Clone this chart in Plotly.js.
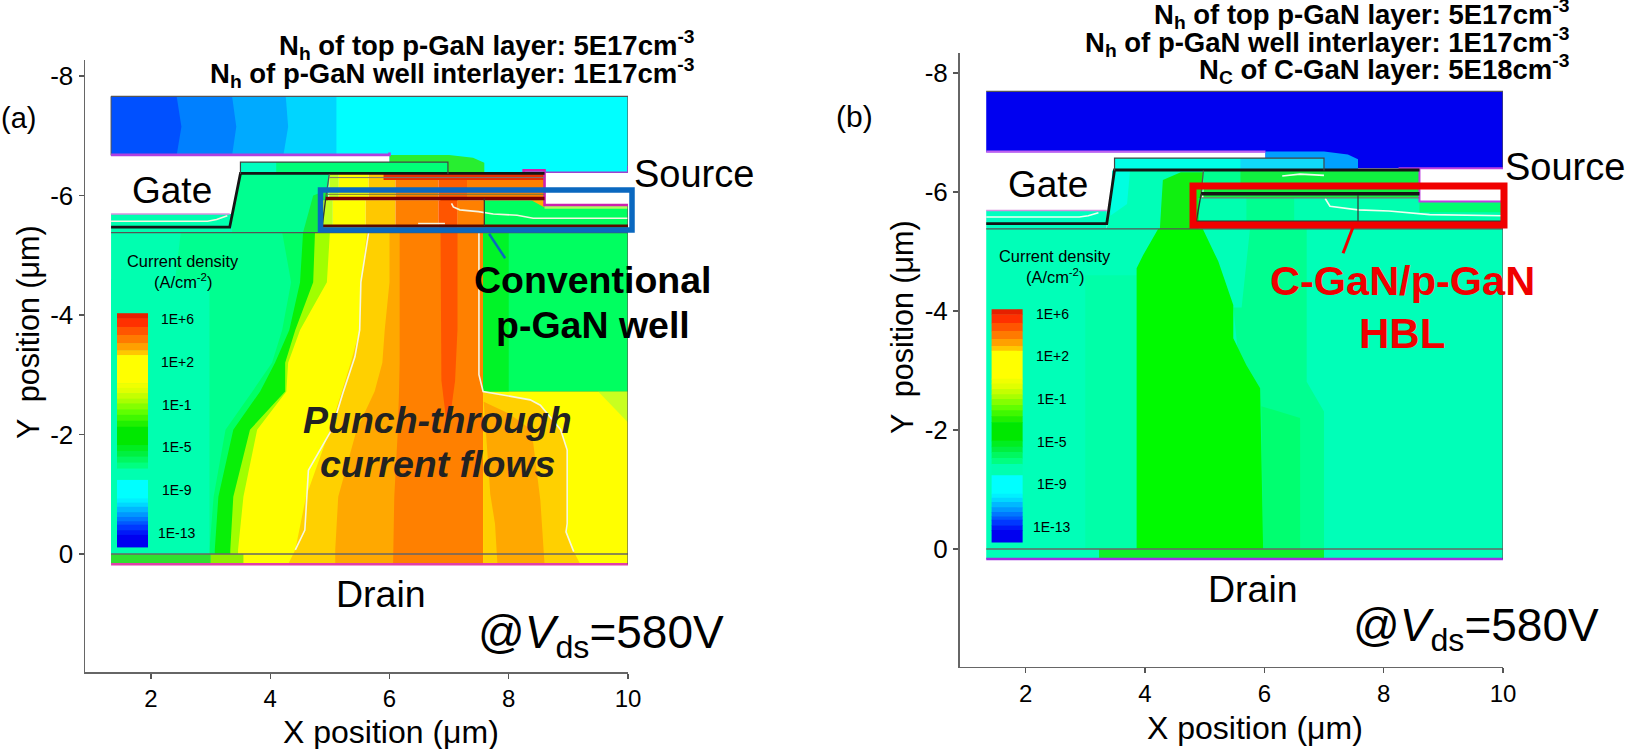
<!DOCTYPE html>
<html><head><meta charset="utf-8">
<script src="https://cdn.plot.ly/plotly-3.0.1.min.js"></script>
<style>html,body{margin:0;padding:0;background:#fff}#c{width:1625px;height:749px}</style>
</head><body><div id="c"></div>
<script>
// ---------- axes / ticks ----------
const xTicks=[2,4,6,8,10], yTicks=[-8,-6,-4,-2,0];
// ---------- colour bar ----------
const cbX=[1.43,1.95];
const cbEdges=[-4.03,-3.945,-3.80,-3.665,-3.53,-3.41,-3.33,-2.86,-2.78,-2.69,-2.6,-2.52,-2.42,-2.33,-2.23,-2.13,-1.82,-1.72,-1.63,-1.53,-1.43,-1.24,-0.93,-0.86,-0.79,-0.70,-0.62,-0.55,-0.49,-0.4,-0.32,-0.12];
const cbColors=['#e62000','#ff3000','#ff5500','#ff7a00','#ffa000','#ffc800','#ffff00','#f0ff00','#e0ff00','#c4ff00','#a8ff00','#84ff00','#60ff00','#40f800','#20f000','#00e800','#00ee20','#00f040','#00f860','#00ff80','#00ffb0','#00ffff','#00f0ff','#00d8ff','#00b8ff','#0098ff','#0078ff','#0058ff','#0038ff','#0018f8','#0000f0'];
const cbLabels=['1E+6','1E+2','1E-1','1E-5','1E-9','1E-13'];
// ---------- panel (a): drift-region contour bands ----------
const aLevels=[-5.38,-4.55,-3.75,-3.2,-2.72,-2.08,-0.96,-0.07,0.17];
const aBandColors=['#00ff90','#00ff66','#08f008','#a0ff00','#ffff00','#ffd000','#ffa800','#ff8000'];
const aBandEdges=[
 [2.5,2.4,2.3,2.3,2.3,2.3,2.3,2.3,2.3],
 [4.2,4.35,4.2,4.03,3.7,3.25,3.05,2.98,2.98],
 [4.55,4.5,4.32,4.08,3.83,3.38,3.13,3.07,3.07],
 [4.75,4.72,4.42,4.25,4.25,3.66,3.38,3.33,3.33],
 [5.0,4.95,4.5,4.3,4.27,3.78,3.55,3.46,3.46],
 [5.62,5.52,5.5,5.35,5.2,5.0,4.6,4.42,4.3],
 [6.0,6.0,5.92,5.88,5.75,5.45,5.14,5.09,5.09],
 [6.17,6.17,6.18,6.17,6.16,6.14,6.08,6.06,6.06]];
// polygons as [xs, ys]
const aRedCore=[[6.85,7.14,7.14,7.1,6.98,6.87],[-6.36,-6.36,-3.75,-2.9,-2.02,-2.9]];
const aYellowR=[[7.57,10,10,7.57],[-2.72,-2.72,0.17,0.17]];
const aYellowCorner=[[9.5,10,10],[-2.72,-2.72,-2.2]];
const aGoldR=[[7.57,8.36,8.53,8.87,8.98,8.98,8.96,9.09,9.2,7.57],[-2.72,-2.58,-2.49,-2.08,-1.74,-0.51,-0.37,-0.04,0.17,0.17]];
const aOrangeR=[[7.58,8.0,8.35,8.41,8.53,8.6,7.81,7.77,7.69,7.63],[-2.55,-2.35,-2.1,-1.86,-0.9,0.17,0.17,-0.5,-1.0,-1.86]];
const aGreenR=[[7.57,10,10,7.57],[-5.92,-5.92,-2.72,-2.72]];
const aGreenRL=[[7.57,8.0,8.0,7.57],[-5.38,-5.38,-2.72,-2.72]];
const aLegendBg=[[1.33,2.98,2.98,1.33],[-4.6,-4.6,0,0]];
const aFoot1=[[1.33,3.0,3.0,1.33],[0,0,0.17,0.17]];
const aFoot2=[[3.0,3.55,3.55,3.0],[0,0,0.17,0.17]];
const aTopC=['#0050ff','#0080ff','#00aaff','#00d5ff','#00ffff'];
const aTopEdges=[[1.33,1.33,1.33],[2.43,2.51,2.43],[3.36,3.43,3.36],[4.26,4.3,4.22],[5.11,5.11,5.11]];
const aTopLev=[-7.66,-7.15,-6.67];
const aTopRight=[[6,10,10,6],[-6.7,-6.7,-6.39,-6.39]];
const aBump=[[6,7,7.4,7.59,7.59,6],[-6.68,-6.68,-6.63,-6.55,-6.36,-6.36]];
const aStep=[[1.33,3.36,3.36,1.33],[-5.69,-5.69,-5.38,-5.38]];
const aMesa=[[3.32,3.5,5.0,4.9],[-5.38,-6.36,-6.36,-5.38]];
const aMesaGreen=[[4.55,4.72,4.98,4.92],[-5.38,-6.0,-6.1,-5.38]];
const aStrip=[[3.5,6.98,6.98,3.5],[-6.56,-6.56,-6.36,-6.36]];
const aStripTeal=[[3.5,4.1,4.1,3.5],[-6.56,-6.56,-6.36,-6.36]];
const aWellEdges=[4.99,5.15,5.65,6.1,6.82,7.3,8.6];
const aWellColors=['#c0ff20','#ffff00','#ffc800','#ff8000','#ff5f00','#ff8000'];
const aRedStrip=[[5.9,8.6,8.6,5.9],[-6.36,-6.36,-6.26,-6.26]];
const aLowEdges=[4.88,5.05,5.6,6.1,6.82,7.14,7.59];
const aLowColors=['#c0ff20','#ffff00','#ffc800','#ff8000','#ff5500','#ff8000'];
const aNotch=[[8.6,10,10,8.6],[-6.39,-6.39,-5.84,-5.84]];
const aCornerPatch=[[8.38,8.6,8.6],[-5.92,-5.92,-5.8]];
// panel (a) lines
const aCont1=[[5.65,5.52,5.5,5.42,5.22,5.03,4.64,4.58,4.42],[-5.38,-4.55,-3.75,-3.3,-2.7,-2.08,-1.4,-0.4,-0.07]];
const aCont2=[[7.5,7.5,7.57,8.36,8.53,8.87,8.98,8.98,8.96,9.09],[-5.38,-3,-2.72,-2.58,-2.49,-2.08,-1.74,-0.51,-0.37,-0.04]];
const aCont3=[[7.04,7.07,7.18,7.49,7.74,8.14,8.41,10],[-5.87,-5.81,-5.76,-5.73,-5.69,-5.67,-5.62,-5.62]];
const aCont4=[[6.48,6.93],[-5.53,-5.53]];
const aCont5=[[1.33,2.95,3.1,3.28],[-5.57,-5.57,-5.6,-5.66]];
// ---------- panel (b) ----------
const bPale=[[5.76,6.71,6.71,7.0,7.0,5.9,5.48,5.62],[-5.38,-5.38,-2.81,-2.31,0,0,-4.06,-4.06]];
const bPale2=[[5.95,6.6,6.6,5.98],[-2.4,-2.2,0,0]];
const bLeftPale=[[3.0,3.9,3.9,3.0],[-4.6,-4.6,0,0]];
const bBright=[[4.22,4.97,5.23,5.48,5.48,5.7,5.93,5.98,3.86,3.86,3.97],[-5.38,-5.38,-4.83,-4.1,-3.54,-3.09,-2.7,0,0,-4.72,-4.94]];
const bFootGreen=[[3.23,7.0,7.0,3.23],[0,0,0.17,0.17]];
const bTopBlue=[[1.34,10,10,6.02,6.02,1.34],[-7.69,-7.69,-6.4,-6.4,-6.67,-6.67]];
const bBump=[[6.02,7,7.4,7.57,7.57,6.02],[-6.68,-6.68,-6.63,-6.55,-6.36,-6.36]];
const bStep=[[1.34,3.36,3.36,1.34],[-5.69,-5.69,-5.38,-5.38]];
const bMesa=[[3.36,3.49,5,4.9],[-5.38,-6.36,-6.36,-5.38]];
const bMesaCyan=[[3.45,3.75,3.7,3.42],[-6.36,-6.36,-5.8,-5.6]];
const bMesaGreen=[[4.25,4.3,4.6,4.98,4.92],[-5.38,-6.2,-6.33,-6.33,-5.38]];
const bStrip=[[3.49,7.0,7.0,3.49],[-6.57,-6.57,-6.36,-6.36]];
const bStripR=[[5.6,7.0,7.0,5.6],[-6.57,-6.57,-6.36,-6.36]];
const bWell=[[4.98,8.6,8.6,4.98],[-6.36,-6.36,-5.9,-5.9]];
const bWellL=[[4.98,5.6,5.6,4.98],[-6.36,-6.36,-6.1,-6.1]];
const bLow=[[4.9,10,10,4.9],[-5.9,-5.9,-5.38,-5.38]];
const bLowPale=[[5.7,6.5,6.5,5.7],[-5.9,-5.9,-5.38,-5.38]];
const bNotch=[[8.6,10,10,8.6],[-6.4,-6.4,-5.84,-5.84]];
const bUnderNotch=[[8.6,10,10,8.6],[-5.84,-5.84,-5.66,-5.66]];
const bCont1=[[7.02,7.1,7.57,8.09,8.77,10],[-5.89,-5.76,-5.7,-5.68,-5.62,-5.6]];
const bCont2=[[6.3,6.6,7.0],[-6.27,-6.3,-6.28]];
const bCont3=[[1.34,2.9,3.05,3.22],[-5.58,-5.58,-5.6,-5.65]];

const traces=[];
function poly(p,c,ax){traces.push({type:'scatter',x:p[0],y:p[1],xaxis:ax[0],yaxis:ax[1],mode:'lines',fill:'toself',fillcolor:c,line:{width:0,color:c},hoverinfo:'skip',showlegend:false});}
function ln(p,c,w,ax){traces.push({type:'scatter',x:p[0],y:p[1],xaxis:ax[0],yaxis:ax[1],mode:'lines',line:{width:w,color:c},hoverinfo:'skip',showlegend:false});}
const rect=(a,b,c,d)=>[[a,b,b,a],[c,c,d,d]];
function colorbar(ax){cbColors.forEach((c,i)=>poly(rect(cbX[0],cbX[1],cbEdges[i],cbEdges[i+1]+0.01),c,ax));}

// ----- panel a -----
const A=['x','y'];
poly(rect(1.33,10,-5.38,0.17),'#00ffb0',A);
aBandEdges.forEach((e,i)=>poly([e.concat([10,10]),aLevels.concat([0.17,-5.38])],aBandColors[i],A));
poly(aRedCore,'#ff5500',A);
poly(aYellowR,'#ffff00',A);poly(aYellowCorner,'#c8ff20',A);poly(aGoldR,'#ffd000',A);poly(aOrangeR,'#ffa800',A);
poly(aGreenR,'#00ff60',A);poly(aGreenRL,'#00f428',A);
poly(aLegendBg,'#00ffb0',A);poly(aFoot1,'#30e030',A);poly(aFoot2,'#90f000',A);
poly(rect(1.33,10,-7.66,-6.67),aTopC[4],A);
aTopEdges.slice().reverse().forEach((e,i)=>{const c=aTopC[3-i];poly([[1.33].concat(e,[1.33]),[-7.66].concat(aTopLev,[-6.67])],c,A);});
poly(aTopRight,'#00ffff',A);
poly(aMesa,'#00ff90',A);poly(aMesaGreen,'#10f040',A);
poly(aStep,'#00ffb0',A);
poly(aBump,'#28ee30',A);
poly(aStrip,'#00ff78',A);poly(aStripTeal,'#00ffc0',A);
for(let i=0;i<aWellColors.length;i++)poly(rect(aWellEdges[i],aWellEdges[i+1],-6.36,-5.92),aWellColors[i],A);
poly(aRedStrip,'#e83000',A);
for(let i=0;i<aLowColors.length;i++)poly(rect(aLowEdges[i],aLowEdges[i+1],-5.92,-5.38),aLowColors[i],A);
poly(aNotch,'#ffffff',A);poly(aCornerPatch,'#ffb000',A);
poly(rect(8.6,10,-5.84,-5.78),'#a8ff60',A);
colorbar(A);
[aCont1,aCont2,aCont3,aCont4,aCont5].forEach(p=>ln(p,'#f6f6e0',1.6,A));
ln([[1.33,10],[0,0]],'#666666',1.5,A);
ln([[1.33,10],[0.17,0.17]],'#e040a8',2.5,A);
ln([[1.33,10,10],[-7.66,-7.66,-6.39]],'#555555',1.2,A);
ln([[10,10],[-5.84,0.17]],'#555555',1.2,A);
ln([[1.33,1.33],[-7.66,-6.67]],'#555555',1,A);
ln([[1.33,6.0,6.0],[-6.68,-6.68,-6.72]],'#b040e0',2.6,A);
ln([[8.25,8.25,8.6,8.6,10],[-6.36,-6.42,-6.42,-5.84,-5.84]],'#d020b0',2.6,A);
ln([[8.6,10,10],[-6.39,-6.39,-6.5]],'#a040d0',1.6,A);
ln([[1.33,3.32],[-5.69,-5.69]],'#d890e0',1.5,A);
ln([[1.33,3.32,3.5,8.6],[-5.47,-5.47,-6.37,-6.37]],'#151515',2.8,A);
ln([[3.5,3.5,6.98,6.98],[-6.36,-6.56,-6.56,-6.36]],'#444444',1.2,A);
ln([[1.33,10],[-5.38,-5.38]],'#555555',1.2,A);
ln([[4.99,4.93],[-6.36,-5.95]],'#555555',1.2,A);
ln([[4.99,8.6],[-6.3,-6.3]],'#777777',1,A);
ln([[4.93,8.6],[-5.95,-5.95]],'#7a0000',3.6,A);
ln([[4.93,8.6],[-6.02,-6.02]],'#777733',1,A);
ln([[4.93,4.87],[-5.95,-5.48]],'#333333',1.4,A);
ln([[4.87,10],[-5.49,-5.49]],'#5a0a00',3,A);
ln([[7.59,7.59],[-5.95,-5.49]],'#333333',1.2,A);

// ----- panel b -----
const B=['x2','y2'];
poly(rect(1.34,10,-5.38,0.17),'#00ffb8',B);
poly(bLeftPale,'#00ffa8',B);
poly(bPale,'#00ff90',B);
poly(bPale2,'#00ff70',B);
poly(bBright,'#00fa00',B);
poly(bFootGreen,'#10f028',B);
poly(bTopBlue,'#0000f0',B);
poly(bMesa,'#00ffb8',B);poly(bMesaCyan,'#00ffe0',B);poly(bMesaGreen,'#10f010',B);
poly(bStep,'#00ffc0',B);
poly(bBump,'#00a0ff',B);
poly(bStrip,'#00ffe8',B);poly(bStripR,'#10d8f8',B);
poly(bWell,'#10f040',B);poly(bWellL,'#00ff90',B);
poly(bLow,'#00ffb0',B);poly(bLowPale,'#00ff90',B);poly(bUnderNotch,'#00ff70',B);
poly(bNotch,'#ffffff',B);
colorbar(B);
[bCont1,bCont2,bCont3].forEach(p=>ln(p,'#f0fff0',1.6,B));
ln([[1.34,10],[0,0]],'#666666',1.5,B);
ln([[1.34,10],[0.17,0.17]],'#a030e0',2.5,B);
ln([[1.34,10,10],[-7.69,-7.69,-6.4]],'#555555',1.2,B);
ln([[10,10],[-5.84,0.17]],'#555555',1.2,B);
ln([[1.34,6.02],[-6.68,-6.68]],'#c060f0',2.2,B);
ln([[8.25,10],[-6.4,-6.4]],'#c040e0',2,B);
ln([[8.6,8.6,10],[-6.4,-5.84,-5.84]],'#c040e0',2,B);
ln([[1.34,3.36],[-5.69,-5.69]],'#d890e0',1.5,B);
ln([[1.34,3.36,3.49,8.6],[-5.47,-5.47,-6.37,-6.37]],'#151515',2.8,B);
ln([[3.49,3.49,7,7],[-6.36,-6.57,-6.57,-6.36]],'#444444',1.2,B);
ln([[1.34,10],[-5.38,-5.38]],'#555555',1.2,B);
ln([[4.98,4.94],[-6.36,-5.97]],'#555555',1.2,B);
ln([[4.94,8.6],[-5.97,-5.97]],'#151515',3.6,B);
ln([[4.94,8.6],[-5.9,-5.9]],'#777777',1.2,B);
ln([[4.94,4.86],[-5.97,-5.5]],'#333333',1.4,B);
ln([[4.86,10],[-5.5,-5.5]],'#333333',2.4,B);
ln([[7.57,7.57],[-5.95,-5.5]],'#333333',1.2,B);

// ----- layout helpers: pixel to paper -----
const W=1625,H=749, px=v=>v/W, py=v=>1-v/H;
const FF='"Liberation Sans",Arial,sans-serif';
function note(t,x,y,size,o){const color=(o&&o.color)||'#000';const r={text:t,x:px(x),y:py(y),xref:'paper',yref:'paper',xanchor:(o&&o.xanchor)||'center',yanchor:'middle',showarrow:false,font:{family:FF,size:size,color:color}};if(o&&o.textangle)r.textangle=o.textangle;return r;}
const anns=[];
const bold=s=>'<b>'+s+'</b>';
anns.push(note('(a)',18,118,29),note('(b)',854,117,30));
anns.push(note('Y  position (μm)',28,332,30.5,{textangle:-90}));
anns.push(note('Y  position (μm)',902,327,30.5,{textangle:-90}));
anns.push(note('X position (μm)',391,732,32),note('X position (μm)',1255,728,32));
anns.push(note('Gate',172,191,37),note('Gate',1048,185,37));
anns.push(note('Source',694,174,38),note('Source',1565,167,38));
anns.push(note('Drain',381,594,37.5),note('Drain',1253,589,37.5));
const vds='@<i>V</i><sub>ds</sub>=580V';
anns.push(note(vds,601,635,46),note(vds,1476,628,46));
const hdr=['N<sub>h</sub> of top p-GaN layer: 5E17cm<sup>-3</sup>','N<sub>h</sub> of p-GaN well interlayer: 1E17cm<sup>-3</sup>','N<sub>C</sub> of C-GaN layer: 5E18cm<sup>-3</sup>'];
[[0,45],[1,73]].forEach(h=>anns.push(note(bold(hdr[h[0]]),697,h[1],27.5,{xanchor:'right'})));
[[0,14],[1,42],[2,69]].forEach(h=>anns.push(note(bold(hdr[h[0]]),1572,h[1],27.5,{xanchor:'right'})));
anns.push(note(bold('Conventional'),593,280,37.5),note(bold('p-GaN well'),593,325,37.5));
anns.push(note(bold('C-GaN/p-GaN'),1402,280,41.5,{color:'#f00000'}),note(bold('HBL'),1402,333,42,{color:'#f00000'}));
anns.push(note('<b><i>Punch-through</i></b>',437,420,37.5,{color:'#222'}),note('<b><i>current flows</i></b>',437,464,37.5,{color:'#222'}));
anns.push(note('Current density',183,261,16.4),note('(A/cm<sup>-2</sup>)',183,281,16.4));
anns.push(note('Current density',1055,256,16.4),note('(A/cm<sup>-2</sup>)',1055,276,16.4));
[319,362,405,447,490,533].forEach((y,i)=>anns.push(note(cbLabels[i],177,y,14)));
[314,356,399,442,484,527].forEach((y,i)=>anns.push(note(cbLabels[i],1052,y,14)));

const shapes=[
 {type:'rect',xref:'paper',yref:'paper',x0:px(320.5),x1:px(632),y0:py(190),y1:py(230),line:{color:'#0a68c0',width:5.5},fillcolor:'rgba(0,0,0,0)'},
 {type:'line',xref:'x',yref:'y',x0:7.67,x1:7.94,y0:-5.36,y1:-4.95,line:{color:'#0a68c0',width:2.5}},
 {type:'rect',xref:'paper',yref:'paper',x0:px(1193),x1:px(1504),y0:py(186),y1:py(225),line:{color:'#f00000',width:7},fillcolor:'rgba(0,0,0,0)'},
 {type:'line',xref:'x2',yref:'y2',x0:7.49,x1:7.32,y0:-5.42,y1:-4.97,line:{color:'#f00000',width:3}}
];
const ax=(dom,range,vals,anchor,size)=>({domain:dom,range:range,anchor:anchor,tickmode:'array',tickvals:vals,ticktext:vals.map(String),ticks:'outside',ticklen:5,tickwidth:1.2,tickcolor:'#555',showline:true,linecolor:'#666',linewidth:1.5,showgrid:false,zeroline:false,tickfont:{family:FF,size:size,color:'#000'},fixedrange:true});
const layout={width:W,height:H,margin:{l:0,r:0,t:0,b:0},paper_bgcolor:'#fff',plot_bgcolor:'#fff',showlegend:false,
 xaxis:ax([85/W,628/W],[0.893,10],xTicks,'y',24),
 yaxis:ax([1-672/H,1-60/H],[1.975,-8.268],yTicks,'x',26),
 xaxis2:ax([959.5/W,1503/W],[0.892,10],xTicks,'y2',24),
 yaxis2:ax([1-666.7/H,1-53/H],[1.978,-8.336],yTicks,'x2',26),
 annotations:anns,shapes:shapes};
Plotly.newPlot('c',traces,layout,{displayModeBar:false,staticPlot:true});
</script></body></html>
